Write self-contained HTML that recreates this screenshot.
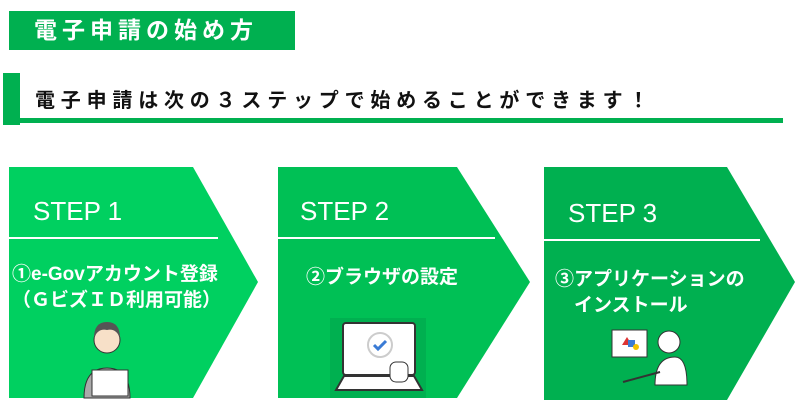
<!DOCTYPE html>
<html><head><meta charset="utf-8"><style>
body{margin:0;width:800px;height:409px;background:#fff;position:relative;overflow:hidden;font-family:"Liberation Sans","Noto Sans CJK JP",sans-serif}
.abs{position:absolute}
.h1{left:9px;top:11px;width:286px;height:39px;background:#00b050;color:#fff;font-weight:bold;font-size:23px;line-height:39px;padding-left:25px;box-sizing:border-box;letter-spacing:5px;white-space:nowrap}
.bar{left:3px;top:73px;width:17px;height:52px;background:#00b050}
.line{left:3px;top:118px;width:780px;height:5px;background:#00b050}
.h2{left:35px;top:84px;font-size:20px;font-weight:bold;letter-spacing:5.8px;color:#111;white-space:nowrap}
.step{color:#fff;font-size:26px}
.t{color:#fff;font-weight:bold;font-size:19px;line-height:26px;white-space:nowrap}
</style></head><body>
<div class="abs h1">電子申請の始め方</div>
<div class="abs bar"></div>
<div class="abs line"></div>
<div class="abs h2">電子申請は次の３ステップで始めることができます！</div>
<svg class="abs" style="left:0;top:0" width="800" height="409">
<polygon points="9,167 193,167 258,282 193,398 9,398" fill="#00d060"/>
<polygon points="278,167 457,167 530,282 457,398 278,398" fill="#00c055"/>
<polygon points="544,167 727,167 795,282 727,400 544,400" fill="#00b050"/>
<line x1="9" y1="238" x2="218" y2="238" stroke="#fff" stroke-width="2"/>
<line x1="278" y1="238" x2="495" y2="238" stroke="#fff" stroke-width="2"/>
<line x1="544" y1="240" x2="760" y2="240" stroke="#fff" stroke-width="2"/>
<circle cx="107" cy="340" r="13" fill="#f7e0c8" stroke="#333"/>
<path d="M94,338 q0,-16 13,-16 q13,0 13,16 q-4,-10 -13,-8 q-9,-2 -13,8z" fill="#555"/>
<path d="M84,398 q0,-30 23,-30 q23,0 23,30z" fill="#aaa" stroke="#333"/>
<rect x="92" y="370" width="36" height="26" fill="#fff" stroke="#333"/>
<rect x="330" y="318" width="96" height="80" fill="#00b050"/>
<rect x="343" y="323" width="72" height="52" rx="3" fill="#fff" stroke="#333" stroke-width="2"/>
<circle cx="380" cy="345" r="12" fill="#fff" stroke="#ccc" stroke-width="2"/>
<path d="M374,345 l4,4 l8,-8" fill="none" stroke="#3a7bd5" stroke-width="3"/>
<path d="M336,390 l8,-14 h70 l8,14z" fill="#fff" stroke="#333" stroke-width="2"/>
<rect x="390" y="362" width="18" height="20" rx="6" fill="#fff" stroke="#333"/>
<rect x="612" y="330" width="35" height="27" fill="#fff" stroke="#333"/>
<polygon points="622,345 627,337 632,345" fill="#d33"/>
<rect x="628" y="340" width="7" height="7" fill="#3a7bd5"/>
<circle cx="636" cy="347" r="3" fill="#f2c200"/>
<circle cx="669" cy="342" r="11" fill="#fff" stroke="#333"/>
<path d="M655,385 q0,-28 20,-28 q12,0 12,28z" fill="#fff" stroke="#333"/>
<line x1="623" y1="382" x2="660" y2="372" stroke="#333" stroke-width="2"/>
</svg>
<div class="abs step" style="left:33px;top:196px">STEP 1</div>
<div class="abs step" style="left:300px;top:196px">STEP 2</div>
<div class="abs step" style="left:568px;top:198px">STEP 3</div>
<div class="abs t" style="left:12px;top:262px">①e-Govアカウント登録<br>（ＧビズＩＤ利用可能）</div>
<div class="abs t" style="left:306px;top:265px">②ブラウザの設定</div>
<div class="abs t" style="left:555px;top:267px">③アプリケーションの<br>　インストール</div>
</body></html>
